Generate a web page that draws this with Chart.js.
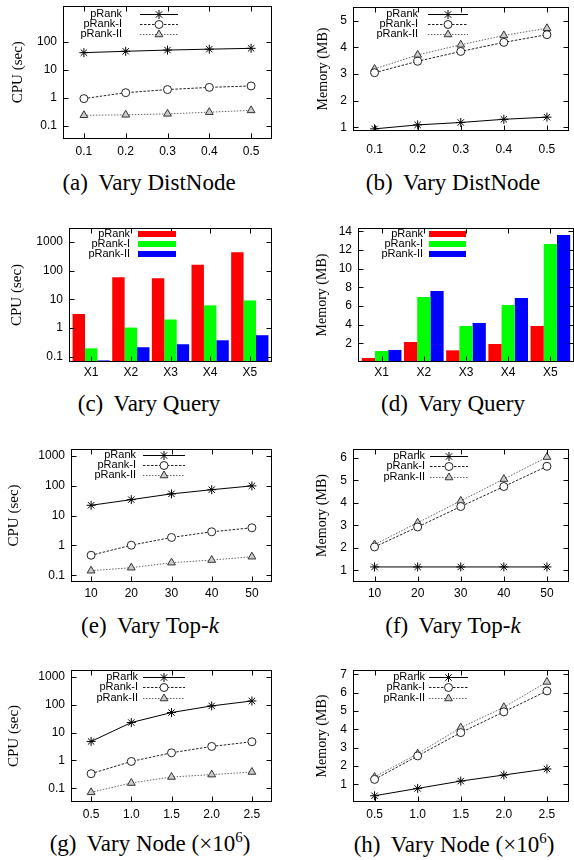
<!DOCTYPE html>
<html>
<head>
<meta charset="utf-8">
<script src="https://cdn.jsdelivr.net/npm/chart.js@4.4.1/dist/chart.umd.min.js"></script>
<style>
body { margin: 0; background: #fff; width: 574px; height: 860px; position: relative; overflow: hidden; }
canvas { position: absolute; }
.cap { position: absolute; font-family: "Liberation Serif", "Times New Roman", serif; font-size: 23px;
       white-space: nowrap; transform: translate(-50%, -50%); line-height: 1; color: #000; }
.cap .lb { margin-right: 5px; }
.cap .sup { font-size: 15px; position: relative; top: -9px; }
</style>
</head>
<body>

<div class="cap" style="left:149px;top:182px"><span class="lb">(a)</span> Vary DistNode</div>
<div class="cap" style="left:453px;top:182px"><span class="lb">(b)</span> Vary DistNode</div>
<div class="cap" style="left:149px;top:403px"><span class="lb">(c)</span> Vary Query</div>
<div class="cap" style="left:453px;top:403px"><span class="lb">(d)</span> Vary Query</div>
<div class="cap" style="left:150px;top:625px"><span class="lb">(e)</span> Vary Top-<i>k</i></div>
<div class="cap" style="left:453px;top:625px"><span class="lb">(f)</span> Vary Top-<i>k</i></div>
<div class="cap" style="left:150px;top:843px"><span class="lb">(g)</span> Vary Node (×10<span class="sup">6</span>)</div>
<div class="cap" style="left:454px;top:844px"><span class="lb">(h)</span> Vary Node (×10<span class="sup">6</span>)</div>

<script>
// series names
var seriesNames = ['pRank', 'pRank-I', 'pRank-II'];

// (a)/(b) vary DistNode
var distNode = [0.1, 0.2, 0.3, 0.4, 0.5];
var cpuDistPRank = [42, 47, 52, 56, 60];
var cpuDistPRankI = [0.95, 1.55, 2.0, 2.4, 2.7];
var cpuDistPRankII = [0.24, 0.25, 0.27, 0.31, 0.36];
var memDistPRank = [0.94, 1.09, 1.18, 1.3, 1.38];
var memDistPRankI = [3.05, 3.48, 3.85, 4.19, 4.48];
var memDistPRankII = [3.19, 3.72, 4.1, 4.45, 4.72];

// (c)/(d) vary query
var queries = ['X1', 'X2', 'X3', 'X4', 'X5'];
var queryPos = [1, 2, 3, 4, 5];
var cpuQueryPRank = [3.1, 58, 54, 158, 435];
var cpuQueryPRankI = [0.2, 1.05, 2.0, 6.2, 9.2];
var cpuQueryPRankII = [0.076, 0.218, 0.277, 0.38, 0.57];
var memQueryPRank = [0.43, 2.14, 1.25, 1.93, 3.86];
var memQueryPRankI = [1.18, 6.96, 3.86, 6.1, 12.64];
var memQueryPRankII = [1.29, 7.6, 4.18, 6.86, 13.6];

// (e)/(f) vary top-k
var topK = [10, 20, 30, 40, 50];
var cpuTopKPRank = [22, 34, 53, 73, 98];
var cpuTopKPRankI = [0.47, 1.02, 1.85, 2.86, 3.9];
var cpuTopKPRankII = [0.143, 0.18, 0.265, 0.325, 0.42];
var memTopKPRank = [1.15, 1.15, 1.15, 1.15, 1.15];
var memTopKPRankI = [2.04, 2.93, 3.84, 4.73, 5.63];
var memTopKPRankII = [2.15, 3.12, 4.09, 5.06, 6.04];

// (g)/(h) vary node (x10^6)
var nodes = [0.5, 1.0, 1.5, 2.0, 2.5];
var cpuNodePRank = [4.8, 22.8, 52, 90, 135];
var cpuNodePRankI = [0.335, 0.92, 1.88, 3.17, 4.67];
var cpuNodePRankII = [0.072, 0.155, 0.255, 0.31, 0.385];
var memNodePRank = [0.38, 0.78, 1.18, 1.51, 1.84];
var memNodePRankI = [1.27, 2.55, 3.82, 4.95, 6.09];
var memNodePRankII = [1.4, 2.67, 4.09, 5.2, 6.58];

// tick labels
var cpuTicks3 = [0.1, 1, 10, 100];
var cpuTicks4 = [0.1, 1, 10, 100, 1000];
var memDistTicks = [1, 2, 3, 4, 5];
var memQueryTicks = [2, 4, 6, 8, 10, 12, 14];
var memTopKTicks = [1, 2, 3, 4, 5, 6];
var memNodeTicks = [1, 2, 3, 4, 5, 6, 7];

var lineStyles = [
    { borderColor: '#000', borderDash: [], pointStyle: 'star', pointRadius: 4.5,
      pointBorderColor: '#000', pointBackgroundColor: '#000' },
    { borderColor: '#222', borderDash: [2.5, 1.5], pointStyle: 'circle', pointRadius: 4,
      pointBorderColor: '#222', pointBackgroundColor: '#fff' },
    { borderColor: '#666', borderDash: [1.5, 1.5], pointStyle: 'triangle', pointRadius: 4.5,
      pointBorderColor: '#333', pointBackgroundColor: '#ccc' }
];
var barColors = ['#ff0000', '#00ff00', '#0000ff'];
var tickFont = { family: 'Liberation Sans, Arial, sans-serif', size: 12 };

function lineSets(xs, list) {
    return list.map(function (arr, i) {
        return Object.assign({
            label: seriesNames[i],
            data: arr.map(function (v, j) { return { x: xs[j], y: v }; }),
            borderWidth: 1, pointBorderWidth: 1, tension: 0, fill: false
        }, lineStyles[i]);
    });
}

function barSets(list) {
    return list.map(function (arr, i) {
        return {
            label: seriesNames[i],
            data: arr.map(function (v, j) { return { x: queryPos[j], y: v }; }),
            backgroundColor: barColors[i], borderWidth: 0,
            categoryPercentage: 0.94, barPercentage: 1
        };
    });
}

// frame with inward ticks + gnuplot-like key
var gnuFrame = {
    id: 'gnuFrame',
    afterDatasetsDraw: function (chart, args, o) {
        var ctx = chart.ctx, a = chart.chartArea;
        var l = Math.round(a.left) + 0.5, t = Math.round(a.top) + 0.5;
        var r = Math.round(a.right) - 0.5, b = Math.round(a.bottom) - 0.5;
        ctx.save();
        ctx.strokeStyle = '#000';
        ctx.lineWidth = 1;
        ctx.setLineDash([]);
        ctx.strokeRect(l, t, r - l, b - t);
        ctx.beginPath();
        var ys = chart.scales.y, xs = chart.scales.x;
        ys.ticks.forEach(function (tk) {
            var py = Math.round(ys.getPixelForValue(tk.value)) + 0.5;
            ctx.moveTo(l, py); ctx.lineTo(l + 5, py);
            ctx.moveTo(r, py); ctx.lineTo(r - 5, py);
        });
        xs.ticks.forEach(function (tk) {
            var px = Math.round(xs.getPixelForValue(tk.value)) + 0.5;
            ctx.moveTo(px, b); ctx.lineTo(px, b - 5);
            ctx.moveTo(px, t); ctx.lineTo(px, t + 5);
        });
        ctx.stroke();

        // key
        ctx.font = '11px Liberation Sans, Arial, sans-serif';
        ctx.textAlign = 'right';
        ctx.textBaseline = 'middle';
        chart.data.datasets.forEach(function (ds, i) {
            var y = o.rows[i] - o.oy;
            var x1 = o.x1 - o.ox, x2 = o.x2 - o.ox;
            ctx.fillStyle = '#000';
            ctx.fillText(ds.label, o.textRight - o.ox, y);
            if (o.kind === 'bar') {
                ctx.fillStyle = ds.backgroundColor;
                ctx.fillRect(x1, y - 3, x2 - x1, 6);
            } else {
                ctx.strokeStyle = ds.borderColor;
                ctx.setLineDash(ds.borderDash);
                ctx.beginPath();
                ctx.moveTo(x1, Math.round(y) + 0.5);
                ctx.lineTo(x2, Math.round(y) + 0.5);
                ctx.stroke();
                ctx.setLineDash([]);
                ctx.strokeStyle = ds.pointBorderColor;
                ctx.fillStyle = ds.pointBackgroundColor;
                ctx.lineWidth = 1;
                Chart.helpers.drawPoint(ctx, {
                    pointStyle: ds.pointStyle, radius: ds.pointRadius, borderWidth: 1, rotation: 0
                }, (x1 + x2) / 2, Math.round(y) + 0.5);
            }
        });
        ctx.restore();
    }
};

function makeChart(c) {
    var box = c.box, plot = c.plot;
    var axisH = 30;
    var h = plot.b - box.y + axisH;
    var cv = document.createElement('canvas');
    cv.width = box.w;
    cv.height = h;
    cv.style.left = box.x + 'px';
    cv.style.top = box.y + 'px';
    document.body.appendChild(cv);

    var isBar = c.type === 'bar';
    new Chart(cv, {
        type: c.type,
        data: { datasets: c.datasets },
        options: {
            responsive: false,
            animation: false,
            layout: { padding: { top: plot.t - box.y, right: box.x + box.w - plot.r, left: 0, bottom: 0 } },
            plugins: {
                legend: { display: false },
                tooltip: { enabled: false },
                gnuFrame: {
                    kind: isBar ? 'bar' : 'line', ox: box.x, oy: box.y,
                    textRight: c.key.textRight, x1: c.key.x1, x2: c.key.x2, rows: c.key.rows
                }
            },
            scales: {
                x: {
                    type: 'linear', offset: false, min: c.xMin, max: c.xMax,
                    afterBuildTicks: function (s) { s.ticks = c.xTicks.map(function (v) { return { value: v }; }); },
                    ticks: { font: tickFont, color: '#000', padding: c.xPad, autoSkip: false, maxRotation: 0,
                             callback: c.xFmt },
                    grid: { display: false, drawTicks: false },
                    border: { display: false },
                    afterFit: function (s) { s.height = axisH; s.paddingLeft = 0; s.paddingRight = 0; }
                },
                y: {
                    type: c.yType, min: c.yMin, max: c.yMax,
                    afterBuildTicks: function (s) { s.ticks = c.yTicks.map(function (v) { return { value: v }; }); },
                    ticks: { font: tickFont, color: '#000', padding: 6, autoSkip: false,
                             callback: function (v) { return String(v); } },
                    grid: { display: false, drawTicks: false },
                    border: { display: false },
                    title: { display: true, text: c.yTitle, color: '#000',
                             font: { family: 'Liberation Serif, Times New Roman, serif', size: c.yTitleSize },
                             padding: { top: c.yTitleX - box.x - c.yTitleSize * 0.6, bottom: 0 } },
                    afterFit: function (s) { s.width = plot.l - box.x; s.paddingTop = 0; s.paddingBottom = 0; }
                }
            }
        },
        plugins: [gnuFrame]
    });
}

var fmtPlain = function (v) { return String(v); };
var fmtOne = function (v) { return v.toFixed(1); };
var fmtQuery = function (v) { return queries[v - 1]; };

// (a)
makeChart({
    type: 'line', box: { x: 0, y: 0, w: 287 }, plot: { l: 63, t: 4, r: 272, b: 139 },
    datasets: lineSets(distNode, [cpuDistPRank, cpuDistPRankI, cpuDistPRankII]),
    xMin: 0.05, xMax: 0.55, xTicks: distNode, xFmt: fmtPlain, xPad: 5,
    yType: 'logarithmic', yMin: 0.034, yMax: 2050, yTicks: cpuTicks3,
    yTitle: 'CPU (sec)', yTitleSize: 15, yTitleX: 18,
    key: { textRight: 122, x1: 140, x2: 178, rows: [14, 24, 34] }
});
// (b)
makeChart({
    type: 'line', box: { x: 287, y: 0, w: 287 }, plot: { l: 353, t: 7, r: 574, b: 131 },
    datasets: lineSets(distNode, [memDistPRank, memDistPRankI, memDistPRankII]),
    xMin: 0.05, xMax: 0.55, xTicks: distNode, xFmt: fmtPlain, xPad: 11,
    yType: 'linear', yMin: 0.86, yMax: 5.52, yTicks: memDistTicks,
    yTitle: 'Memory (MB)', yTitleSize: 14, yTitleX: 323,
    key: { textRight: 418, x1: 428, x2: 468, rows: [14, 24, 34] }
});
// (c)
makeChart({
    type: 'bar', box: { x: 0, y: 215, w: 287 }, plot: { l: 69, t: 228, r: 272, b: 362 },
    datasets: barSets([cpuQueryPRank, cpuQueryPRankI, cpuQueryPRankII]),
    xMin: 0.44, xMax: 5.56, xTicks: queryPos, xFmt: fmtQuery, xPad: 3,
    yType: 'logarithmic', yMin: 0.067, yMax: 3000, yTicks: cpuTicks4,
    yTitle: 'CPU (sec)', yTitleSize: 15, yTitleX: 17,
    key: { textRight: 130, x1: 138, x2: 176, rows: [234, 244, 254] }
});
// (d)
makeChart({
    type: 'bar', box: { x: 287, y: 215, w: 287 }, plot: { l: 358, t: 228, r: 574, b: 362 },
    datasets: barSets([memQueryPRank, memQueryPRankI, memQueryPRankII]),
    xMin: 0.44, xMax: 5.56, xTicks: queryPos, xFmt: fmtQuery, xPad: 3,
    yType: 'linear', yMin: 0, yMax: 14.35, yTicks: memQueryTicks,
    yTitle: 'Memory (MB)', yTitleSize: 14, yTitleX: 322,
    key: { textRight: 423, x1: 429, x2: 466, rows: [234, 244, 254] }
});
// (e)
makeChart({
    type: 'line', box: { x: 0, y: 430, w: 287 }, plot: { l: 71, t: 449, r: 272, b: 582 },
    datasets: lineSets(topK, [cpuTopKPRank, cpuTopKPRankI, cpuTopKPRankII]),
    xMin: 5, xMax: 55, xTicks: topK, xFmt: fmtPlain, xPad: 4,
    yType: 'logarithmic', yMin: 0.06, yMax: 1675, yTicks: cpuTicks4,
    yTitle: 'CPU (sec)', yTitleSize: 15, yTitleX: 14,
    key: { textRight: 136, x1: 143, x2: 185, rows: [455, 465, 475] }
});
// (f)
makeChart({
    type: 'line', box: { x: 287, y: 430, w: 287 }, plot: { l: 353, t: 449, r: 574, b: 582 },
    datasets: lineSets(topK, [memTopKPRank, memTopKPRankI, memTopKPRankII]),
    xMin: 5, xMax: 55, xTicks: topK, xFmt: fmtPlain, xPad: 4,
    yType: 'linear', yMin: 0.48, yMax: 6.4, yTicks: memTopKTicks,
    yTitle: 'Memory (MB)', yTitleSize: 14, yTitleX: 322,
    key: { textRight: 425, x1: 430, x2: 468, rows: [456, 466, 477] }
});
// (g)
makeChart({
    type: 'line', box: { x: 0, y: 645, w: 287 }, plot: { l: 71, t: 670, r: 272, b: 802 },
    datasets: lineSets(nodes, [cpuNodePRank, cpuNodePRankI, cpuNodePRankII]),
    xMin: 0.25, xMax: 2.75, xTicks: nodes, xFmt: fmtOne, xPad: 5,
    yType: 'logarithmic', yMin: 0.0324, yMax: 1740, yTicks: cpuTicks4,
    yTitle: 'CPU (sec)', yTitleSize: 15, yTitleX: 14,
    key: { textRight: 138, x1: 143, x2: 185, rows: [677, 687, 698] }
});
// (h)
makeChart({
    type: 'line', box: { x: 287, y: 645, w: 287 }, plot: { l: 353, t: 670, r: 574, b: 802 },
    datasets: lineSets(nodes, [memNodePRank, memNodePRankI, memNodePRankII]),
    xMin: 0.25, xMax: 2.75, xTicks: nodes, xFmt: fmtOne, xPad: 5,
    yType: 'linear', yMin: 0.04, yMax: 7.23, yTicks: memNodeTicks,
    yTitle: 'Memory (MB)', yTitleSize: 14, yTitleX: 322,
    key: { textRight: 425, x1: 429, x2: 468, rows: [677, 687, 698] }
});
</script>
</body>
</html>
